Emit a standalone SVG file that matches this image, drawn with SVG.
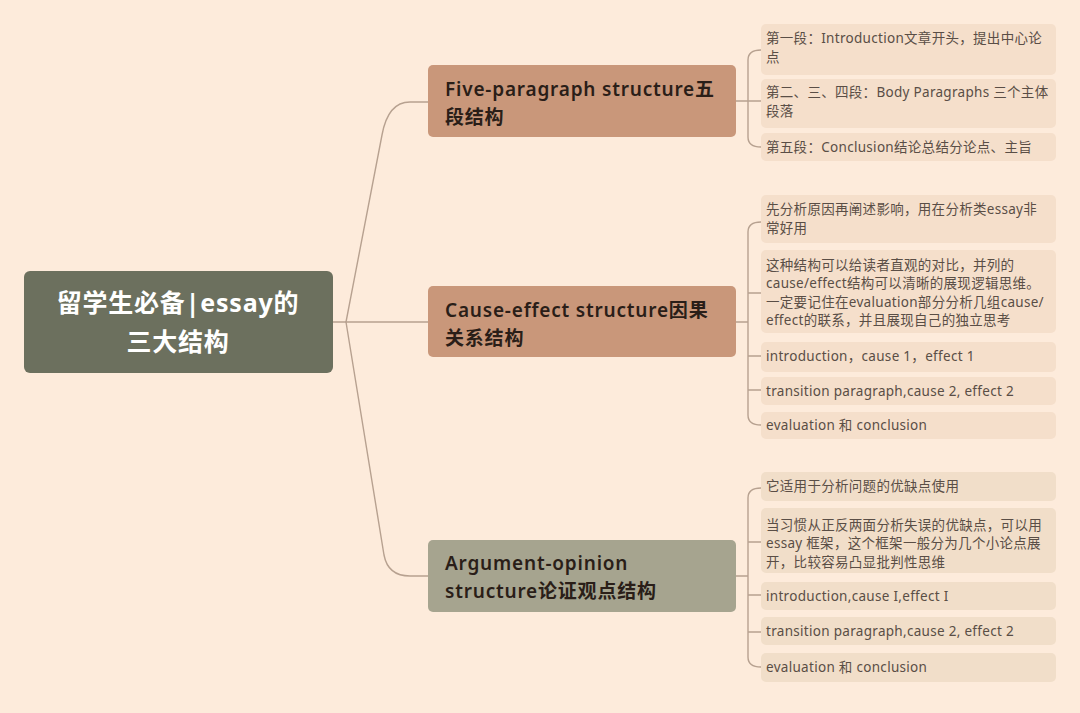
<svg xmlns="http://www.w3.org/2000/svg" width="1080" height="713" viewBox="0 0 1080 713">
<style>
.bg{fill:#fdebdb}
.root{fill:#6c705e}
.br{fill:#c9977a}
.brg{fill:#a6a48f}
.leaf{fill:#f5dfcb}
.leafg{fill:#f1dec9}
.con{fill:none;stroke:#b7a190;stroke-width:1.4;stroke-linecap:round}
.rt{font-family:"Noto Sans","Noto Sans CJK SC",sans-serif;font-size:25px;font-weight:700;fill:#ffffff;text-anchor:middle;letter-spacing:0.8px}
.bt{font-family:"Noto Sans","Noto Sans CJK SC",sans-serif;font-size:19px;font-weight:600;fill:#2a1e18;letter-spacing:0.8px}
.lt{font-family:"Noto Sans","Noto Sans CJK SC",sans-serif;font-size:13.5px;fill:#5a4e46;letter-spacing:0.3px}
</style>
<rect class="bg" x="0" y="0" width="1080" height="713"/>
<g id="connectors">
<path class="con" d="M333,322 L428,322"/>
<path class="con" d="M346,322 L382,135 Q388,102 410,102 L428,102"/>
<path class="con" d="M346,322 L384,555 Q388,576 410,576 L428,576"/>
<path class="con" d="M736,101 L761,101 M761,50 Q748,50 748,60 L748,137 Q748,147 761,147"/>
<path class="con" d="M736,322 L748,322 M761,222 Q748,222 748,232 L748,415 Q748,425 761,425 M748,293 L761,293 M748,356 L761,356 M748,390 L761,390"/>
<path class="con" d="M736,576 L748,576 M761,488 Q748,488 748,498 L748,657 Q748,667 761,667 M748,542 L761,542 M748,595 L761,595 M748,632 L761,632"/>
</g>
<g id="root">
<rect class="root" x="24" y="271" width="309" height="102" rx="6"/>
<text class="rt" x="178" y="312">留学生必备|essay的</text>
<text class="rt" x="178" y="351">三大结构</text>
</g>
<g id="branch-five">
<rect class="br" x="428" y="65" width="308" height="72" rx="5"/>
<text class="bt" x="445" y="96">Five-paragraph structure五</text>
<text class="bt" x="445" y="124">段结构</text>
</g>
<g id="branch-cause">
<rect class="br" x="428" y="286" width="308" height="71" rx="5"/>
<text class="bt" x="445" y="317">Cause-effect structure因果</text>
<text class="bt" x="445" y="345">关系结构</text>
</g>
<g id="branch-argument">
<rect class="brg" x="428" y="540" width="308" height="72" rx="5"/>
<text class="bt" x="445" y="570">Argument-opinion</text>
<text class="bt" x="445" y="598">structure论证观点结构</text>
</g>
<g id="leaf-1-1">
<rect class="leaf" x="761" y="24" width="295" height="51" rx="5"/>
<text class="lt" x="766" y="43">第一段：Introduction文章开头，提出中心论</text>
<text class="lt" x="766" y="62">点</text>
</g>
<g id="leaf-1-2">
<rect class="leaf" x="761" y="79" width="295" height="49" rx="5"/>
<text class="lt" x="766" y="97">第二、三、四段：Body Paragraphs 三个主体</text>
<text class="lt" x="766" y="116">段落</text>
</g>
<g id="leaf-1-3">
<rect class="leaf" x="761" y="133" width="295" height="28" rx="5"/>
<text class="lt" x="766" y="152">第五段：Conclusion结论总结分论点、主旨</text>
</g>
<g id="leaf-2-1">
<rect class="leaf" x="761" y="195" width="295" height="48" rx="5"/>
<text class="lt" x="766" y="214">先分析原因再阐述影响，用在分析类essay非</text>
<text class="lt" x="766" y="233">常好用</text>
</g>
<g id="leaf-2-2">
<rect class="leaf" x="761" y="250" width="295" height="83" rx="5"/>
<text class="lt" x="766" y="270">这种结构可以给读者直观的对比，并列的</text>
<text class="lt" x="766" y="288">cause/effect结构可以清晰的展现逻辑思维。</text>
<text class="lt" x="766" y="307">一定要记住在evaluation部分分析几组cause/</text>
<text class="lt" x="766" y="325">effect的联系，并且展现自己的独立思考</text>
</g>
<g id="leaf-2-3">
<rect class="leaf" x="761" y="342" width="295" height="30" rx="5"/>
<text class="lt" x="766" y="361">introduction，cause 1，effect 1</text>
</g>
<g id="leaf-2-4">
<rect class="leaf" x="761" y="377" width="295" height="28" rx="5"/>
<text class="lt" x="766" y="396">transition paragraph,cause 2, effect 2</text>
</g>
<g id="leaf-2-5">
<rect class="leaf" x="761" y="412" width="295" height="27" rx="5"/>
<text class="lt" x="766" y="430">evaluation 和 conclusion</text>
</g>
<g id="leaf-3-1">
<rect class="leafg" x="761" y="472" width="295" height="29" rx="5"/>
<text class="lt" x="766" y="491">它适用于分析问题的优缺点使用</text>
</g>
<g id="leaf-3-2">
<rect class="leafg" x="761" y="508" width="295" height="65" rx="5"/>
<text class="lt" x="766" y="530">当习惯从正反两面分析失误的优缺点，可以用</text>
<text class="lt" x="766" y="548">essay 框架，这个框架一般分为几个小论点展</text>
<text class="lt" x="766" y="567">开，比较容易凸显批判性思维</text>
</g>
<g id="leaf-3-3">
<rect class="leafg" x="761" y="582" width="295" height="28" rx="5"/>
<text class="lt" x="766" y="601">introduction,cause I,effect I</text>
</g>
<g id="leaf-3-4">
<rect class="leafg" x="761" y="617" width="295" height="28" rx="5"/>
<text class="lt" x="766" y="636">transition paragraph,cause 2, effect 2</text>
</g>
<g id="leaf-3-5">
<rect class="leafg" x="761" y="653" width="295" height="29" rx="5"/>
<text class="lt" x="766" y="672">evaluation 和 conclusion</text>
</g>
</svg>
